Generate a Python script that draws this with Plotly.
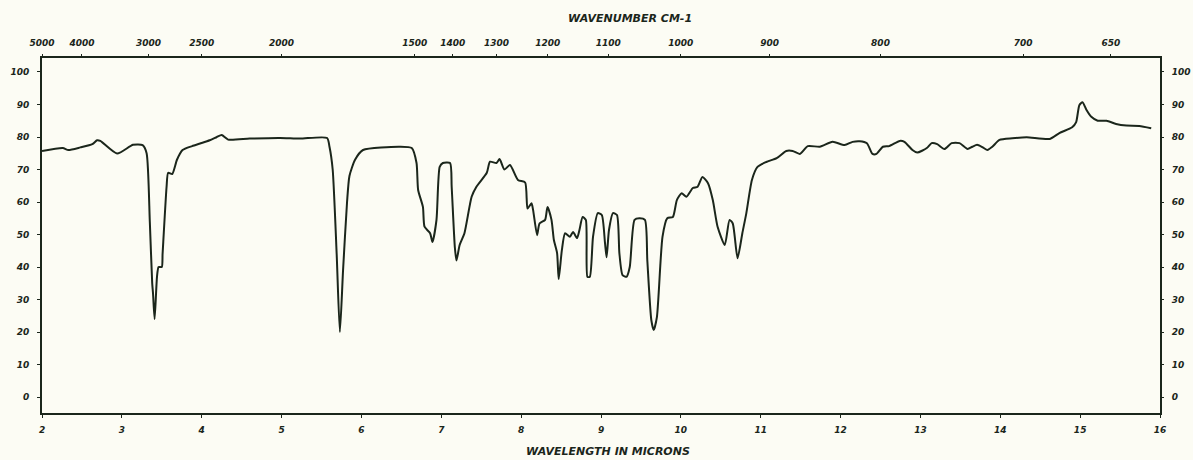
import plotly.graph_objects as go

# Spectrum trace: wavelength (microns) vs. percent transmittance
wavelength = [2.00, 2.26, 2.33, 2.48, 2.63, 2.69, 2.73, 2.94, 3.14, 3.26, 3.31, 3.35, 3.38, 3.39,
              3.41, 3.44, 3.46, 3.50, 3.51, 3.56, 3.58, 3.63, 3.69, 3.76, 3.88, 3.98, 4.10, 4.19,
              4.25, 4.33, 4.60, 4.98, 5.23, 5.57, 5.60, 5.64, 5.69, 5.73, 5.77, 5.82, 5.85, 5.92,
              6.02, 6.48,
              6.63, 6.69, 6.71, 6.77, 6.79, 6.86, 6.89, 6.94, 6.98, 7.02, 7.11, 7.13, 7.17, 7.19,
              7.23, 7.29, 7.38, 7.44, 7.57, 7.61, 7.69, 7.73, 7.79, 7.86, 7.96, 8.05, 8.08, 8.13,
              8.15, 8.20, 8.23, 8.30, 8.33, 8.38, 8.41, 8.45, 8.47, 8.51, 8.55, 8.61, 8.65, 8.70,
              8.73, 8.77, 8.81, 8.83, 8.86, 8.90, 8.96, 9.01, 9.05, 9.07, 9.10, 9.15, 9.20, 9.23,
              9.27, 9.32, 9.36, 9.42, 9.48, 9.55, 9.58, 9.63, 9.66, 9.70, 9.77, 9.83, 9.90, 9.95,
              10.01, 10.07, 10.15, 10.21, 10.27, 10.34, 10.40, 10.46, 10.55, 10.61, 10.65, 10.71,
              10.77, 10.82, 10.89, 10.96, 11.07, 11.20, 11.32, 11.40, 11.49, 11.59, 11.74, 11.90,
              12.05, 12.15, 12.24, 12.33, 12.40, 12.45, 12.53, 12.61, 12.74, 12.80, 12.90, 12.96,
              13.08, 13.14, 13.21, 13.30, 13.39, 13.49, 13.59, 13.65, 13.71, 13.78, 13.84, 13.90,
              13.99, 14.15, 14.33, 14.62, 14.74, 14.90, 14.95, 14.99, 15.03, 15.08, 15.14, 15.22,
              15.33, 15.45, 15.58, 15.74, 15.89]
transmittance = [75.7, 76.6, 76.0, 76.8, 77.8, 79.0, 78.8, 74.9, 77.6, 77.5, 75.0, 54.0, 35.0, 32.0,
                 24.0, 37.0, 40.0, 40.0, 44.0, 64.7, 69.0, 68.6, 73.0, 76.0, 77.2, 78.0, 79.0, 80.0,
                 80.6, 79.2, 79.5, 79.7, 79.5, 79.7, 77.0, 70.0, 44.0, 20.0, 39.0, 60.0, 68.0, 73.0,
                 76.0, 77.0,
                 76.6, 72.0, 63.7, 58.5, 52.4, 50.4, 47.7, 54.5, 70.8, 72.0, 72.0, 64.7, 46.0, 42.0,
                 46.8, 50.4, 61.6, 64.7, 69.0, 72.4, 72.0, 73.2, 70.0, 71.4, 66.8, 66.0, 58.0, 59.6,
                 57.5, 49.8, 53.4, 54.5, 58.5, 54.5, 48.3, 44.3, 36.3, 45.2, 50.4, 49.3, 50.8, 48.9,
                 51.4, 55.4, 54.5, 37.0, 37.0, 49.3, 56.6, 56.0, 47.4, 43.0, 51.4, 56.6, 56.0, 44.3,
                 37.5, 37.0, 40.0, 54.5, 55.0, 54.5, 42.0, 23.7, 20.6, 24.6, 49.3, 55.0, 55.4, 60.6,
                 62.7, 61.6, 64.3, 64.7, 67.7, 65.8, 60.6, 52.4, 46.8, 54.5, 53.4, 42.7,
                 50.4, 56.6, 66.8, 70.8, 72.3, 73.5, 75.7, 75.7, 74.8, 77.2, 77.0, 78.5,
                 77.5, 78.5, 78.7, 78.1, 74.8, 74.8, 77.0, 77.2, 78.8, 78.5, 76.0, 75.2,
                 76.6, 78.1, 77.8, 76.3, 78.1, 78.1, 76.3, 77.0, 77.6, 76.8, 76.0, 77.0,
                 79.1, 79.6, 79.9, 79.4, 81.2, 83.0, 84.6, 89.8, 90.7, 88.3, 86.2, 85.0,
                 85.0, 84.0, 83.5, 83.4, 82.7]

# Axis ticks
micron_ticks = list(range(2, 17))
micron_labels = [str(v) for v in micron_ticks]
wavenumber_ticks = [5000, 4000, 3000, 2500, 2000, 1500, 1400, 1300, 1200, 1100, 1000, 900, 800, 700, 650]
wavenumber_labels = [str(v) for v in wavenumber_ticks]
percent_ticks = list(range(0, 101, 10))
percent_labels = [str(v) for v in percent_ticks]

INK = "#1b261b"
PAPER = "#fcfcf4"
FONT = "DejaVu Sans"

fig = go.Figure()
fig.add_trace(go.Scatter(x=wavelength, y=transmittance, mode="lines", line_shape="spline",
                         line=dict(color=INK, width=2, smoothing=0.6),
                         hoverinfo="skip", showlegend=False))
# invisible copy so the secondary (top/right) axes are drawn
fig.add_trace(go.Scatter(x=wavelength, y=transmittance, mode="lines", xaxis="x2", yaxis="y2",
                         line=dict(color=INK, width=0), opacity=0, hoverinfo="skip", showlegend=False))

tickfont = dict(family=FONT, size=9, color=INK, weight="bold", style="italic")
xr = [2, 16]
yr = [-4.9, 104.3]

fig.update_layout(
    width=1193, height=460,
    margin=dict(l=42, r=33, t=58, b=47, autoexpand=False),
    paper_bgcolor=PAPER, plot_bgcolor=PAPER,
    xaxis=dict(range=xr, tickvals=micron_ticks, ticktext=micron_labels, showgrid=False,
               zeroline=False, showline=True, linecolor=INK, linewidth=2, mirror=True,
               ticks="outside", ticklen=3, tickcolor=INK, tickfont=tickfont, automargin=False,
               ticklabelstandoff=4),
    xaxis2=dict(range=xr, overlaying="x", side="top",
                tickvals=[1e4 / w for w in wavenumber_ticks], ticktext=wavenumber_labels,
                showgrid=False, zeroline=False, showline=False, automargin=False,
                ticks="outside", ticklen=3, tickcolor=INK, tickfont=tickfont, ticklabelstandoff=4),
    yaxis=dict(range=yr, tickvals=percent_ticks, ticktext=percent_labels, showgrid=False,
               zeroline=False, showline=True, linecolor=INK, linewidth=2, mirror=True,
               ticks="outside", ticklen=3, tickcolor=INK, tickfont=tickfont, ticklabelstandoff=6,
               automargin=False),
    yaxis2=dict(range=yr, overlaying="y", side="right", tickvals=percent_ticks,
                ticktext=percent_labels, showgrid=False, zeroline=False, showline=False,
                ticks="outside", ticklen=3, tickcolor=INK, tickfont=tickfont, ticklabelstandoff=6,
                automargin=False),
    annotations=[
        dict(text="WAVENUMBER CM-1", xref="paper", yref="paper", x=0.526, y=1.0, yshift=40,
             showarrow=False, xanchor="center", yanchor="middle",
             font=dict(family=FONT, size=11, color=INK, weight="bold", style="italic")),
        dict(text="WAVELENGTH IN MICRONS", xref="paper", yref="paper", x=0.506, y=0.0, yshift=-38,
             showarrow=False, xanchor="center", yanchor="middle",
             font=dict(family=FONT, size=11, color=INK, weight="bold", style="italic")),
    ],
)

fig.write_html("out.html", config={"displayModeBar": False},
               post_script="document.body.style.margin='0';document.body.style.background='#fcfcf4';")
